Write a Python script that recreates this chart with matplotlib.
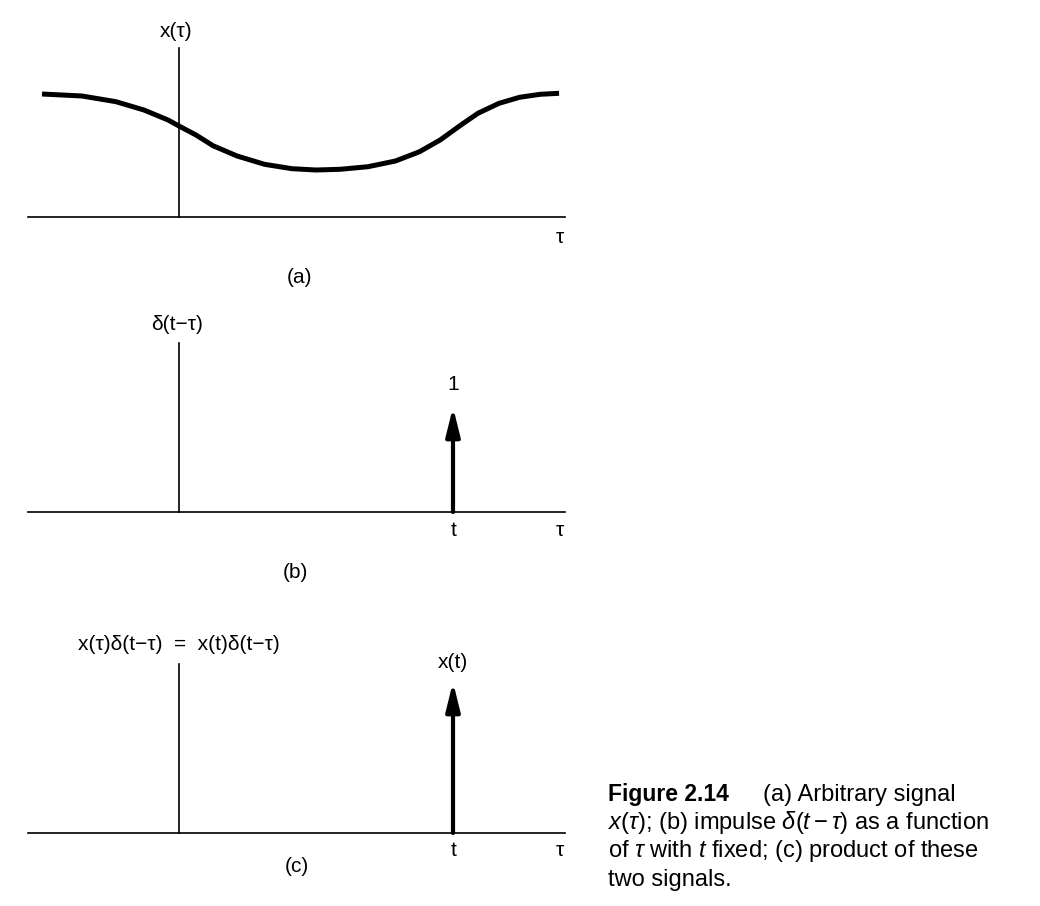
import numpy as np
import matplotlib.pyplot as plt

plt.rcParams['font.family'] = ['Liberation Sans', 'DejaVu Sans']
plt.rcParams['mathtext.fontset'] = 'custom'
plt.rcParams['mathtext.rm'] = 'Liberation Sans'
plt.rcParams['mathtext.it'] = 'Liberation Sans:italic'

# signal x(tau), tau in units of t
tau = [-0.500, -0.354, -0.230, -0.128, -0.040, 0.0, 0.062, 0.124, 0.212, 0.312,
       0.412, 0.500, 0.588, 0.690, 0.790, 0.878, 0.953, 1.029, 1.091, 1.168,
       1.243, 1.318, 1.387]
x_tau = [1.23, 1.21, 1.153, 1.07, 0.97, 0.91, 0.82, 0.713, 0.61, 0.527,
         0.483, 0.47, 0.477, 0.503, 0.56, 0.653, 0.77, 0.92, 1.037, 1.137,
         1.197, 1.227, 1.237]

t_fixed = 1.0
impulse_height = {'b': 1.05, 'c': 1.51}
axis_left, axis_right = -0.55, 1.41
vaxis_height = 1.69

# pixel layout helpers (1 unit = 274 px across, 100 px up)
W, H = 1040, 906
PX_X, PX_Y, X0 = 274.0, 100.0, 179
baselines = {'a': 217, 'b': 512, 'c': 833}

fig = plt.figure(figsize=(W / 100, H / 100), dpi=100)


def panel(key):
    ax = fig.add_axes([0, 0, 1, 1])
    ax.set_axis_off()
    ax.patch.set_alpha(0)
    yb = baselines[key]
    ax.set_xlim(-X0 / PX_X, (W - X0) / PX_X)
    ax.set_ylim(-(H - yb) / PX_Y, yb / PX_Y)
    ax.plot([axis_left, axis_right], [0, 0], color='black', lw=1.2)
    ax.plot([0, 0], [0, vaxis_height], color='black', lw=1.2)
    return ax


def put(ax, key, px, py, s, **kw):
    yb = baselines[key]
    ax.text((px - X0) / PX_X, (yb - py) / PX_Y, s, ha='center', va='center',
            fontsize=15, **kw)


def impulse(ax, h):
    ax.annotate('', xy=(t_fixed, h), xytext=(t_fixed, 0),
                arrowprops=dict(arrowstyle='-|>,head_length=0.85,head_width=0.21',
                                mutation_scale=20, lw=3, color='black',
                                shrinkA=0, shrinkB=0))


# (a)
ax = panel('a')
ax.plot(tau, x_tau, color='black', lw=3.6, solid_capstyle='butt',
        solid_joinstyle='round')
put(ax, 'a', 176, 32, 'x(τ)')
put(ax, 'a', 560, 238, 'τ')
put(ax, 'a', 300, 278, '(a)')

# (b)
ax = panel('b')
impulse(ax, impulse_height['b'])
put(ax, 'b', 177, 325, 'δ(t−τ)')
put(ax, 'b', 453, 385, '1')
put(ax, 'b', 454, 530, 't')
put(ax, 'b', 560, 530, 'τ')
put(ax, 'b', 295, 572, '(b)')

# (c)
ax = panel('c')
impulse(ax, impulse_height['c'])
put(ax, 'c', 179, 645, 'x(τ)δ(t−τ)  =  x(t)δ(t−τ)')
put(ax, 'c', 453, 663, 'x(t)')
put(ax, 'c', 454, 851, 't')
put(ax, 'c', 560, 851, 'τ')
put(ax, 'c', 297, 867, '(c)')

# caption
cap = dict(fontsize=17, ha='left', va='center')
fig.text(608 / W, 1 - 795 / H, 'Figure 2.14', fontsize=16.5, fontweight='bold',
         ha='left', va='center')
fig.text(763 / W, 1 - 795 / H, '(a) Arbitrary signal', **cap)
fig.text(608 / W, 1 - 823 / H, r'$x(\tau)$; (b) impulse $\delta(t-\tau)$ as a function', **cap)
fig.text(608 / W, 1 - 851 / H, r'of $\tau$ with $t$ fixed; (c) product of these', **cap)
fig.text(608 / W, 1 - 880 / H, 'two signals.', **cap)

fig.savefig('out.png', dpi=100)
plt.close()
